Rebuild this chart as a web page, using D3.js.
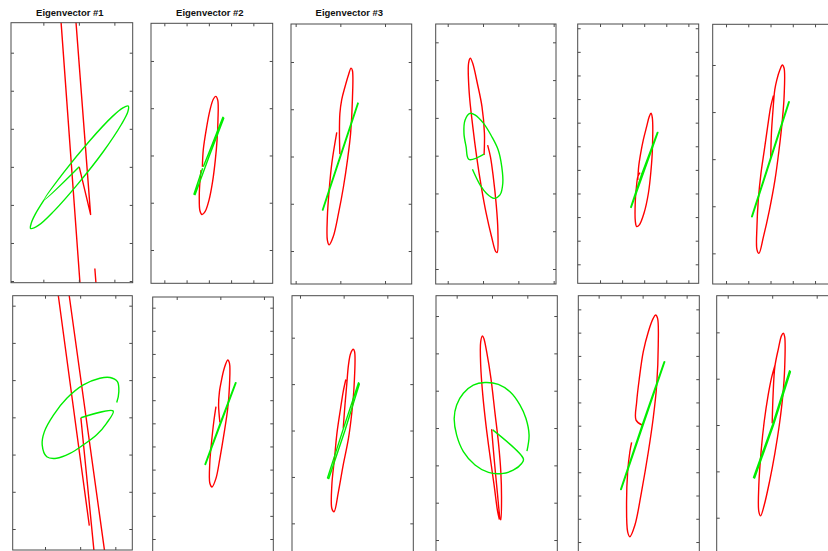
<!DOCTYPE html>
<html>
<head>
<meta charset="utf-8">
<script src="https://cdn.jsdelivr.net/npm/d3@7"></script>
<style>
  body { margin: 0; background: #fff; }
  svg { display: block; }
</style>
</head>
<body>
<svg id="chart" width="828" height="551"></svg>
<script>
// Titles above the first row of panels
const panelTitles = ["Eigenvector #1", "Eigenvector #2", "Eigenvector #3", "", "", "", "", "", "", "", "", ""];

// Axis limits (data units) for each panel
const xLimits = [
  [0.089, 3.516], [0.401, 5.869], [0.896, 3.597], [0.660, 4.066], [-0.011, 5.468], [0.401, 5.839],
  [0.081, 3.483], [0.450, 3.214], [0.817, 3.595], [0.415, 3.849], [0.076, 5.576], [0.753, 3.472]
];
const yLimits = [
  [-0.044, 6.788], [0.295, 5.797], [0.302, 5.804], [0.603, 7.485], [0.195, 11.18], [0.349, 5.864],
  [0.436, 7.268], [0.222, 11.461], [0.303, 5.905], [0.580, 7.545], [0.413, 11.587], [0.180, 5.791]
];

// Tick values (no labels are printed)
const xTickValues = [
  [1, 2, 3], [1, 2, 3, 4, 5], [1, 2, 3], [1, 2, 3, 4], [1, 2, 3, 4, 5], [1, 2, 3, 4, 5],
  [1, 2, 3], [1, 2, 3], [1, 2, 3], [1, 2, 3], [1, 2, 3, 4, 5], [1, 2, 3]
];
const yTickValues = [
  [0, 1, 2, 3, 4, 5, 6], [1, 2, 3, 4, 5], [1, 2, 3, 4, 5], [1, 2, 3, 4, 5, 6, 7],
  [1, 2, 3, 4, 5, 6, 7, 8, 9, 10, 11], [1, 2, 3, 4, 5],
  [1, 2, 3, 4, 5, 6, 7], [1, 2, 3, 4, 5, 6, 7, 8, 9, 10, 11], [1, 2, 3, 4, 5],
  [1, 2, 3, 4, 5, 6, 7], [1, 2, 3, 4, 5, 6, 7, 8, 9, 10, 11], [1, 2, 3, 4, 5]
];

// Red traces (x, y) per panel
const red01 = [[2.01,3.00],[2.33,1.75],[1.92,6.79],[1.86,7.56],[1.75,7.87],[1.58,7.87],[1.47,7.56],[1.50,6.79],[2.03,-0.04],[2.08,-0.67],[2.20,-0.94],[2.36,-0.89],[2.47,-0.50],[2.48,-0.04],[2.45,0.33]];
const red02 = [[2.71,2.76],[2.75,3.12],[2.89,3.57],[3.05,3.96],[3.20,4.19],[3.31,4.25],[3.40,4.17],[3.41,3.75],[3.37,3.33],[3.29,2.90],[3.17,2.45],[3.01,2.06],[2.83,1.81],[2.69,1.75],[2.60,1.83],[2.57,2.13],[2.60,2.45],[2.65,2.69]];
const red03 = [[1.99,3.05],[1.98,3.49],[1.99,3.91],[2.03,4.20],[2.10,4.46],[2.18,4.72],[2.24,4.87],[2.27,4.82],[2.27,4.20],[2.23,3.49],[2.16,2.93],[2.07,2.36],[1.96,1.80],[1.84,1.30],[1.75,1.13],[1.71,1.23],[1.71,1.73],[1.75,2.29],[1.81,2.86],[1.92,3.51]];
const red04 = [[2.03,4.02],[2.04,4.59],[1.97,5.30],[1.84,5.91],[1.71,6.44],[1.64,6.58],[1.59,6.44],[1.61,5.65],[1.71,4.77],[1.82,3.97],[1.95,3.18],[2.09,2.47],[2.24,1.86],[2.36,1.46],[2.40,1.44],[2.42,2.03],[2.37,2.74],[2.29,3.44],[2.21,3.97],[2.13,4.28]];
const red05 = [[2.71,4.57],[2.75,5.14],[2.84,5.70],[2.96,6.27],[3.11,6.83],[3.23,7.26],[3.31,7.40],[3.37,7.19],[3.37,5.84],[3.31,5.00],[3.19,4.01],[2.99,3.16],[2.78,2.67],[2.66,2.60],[2.60,2.81],[2.60,3.73],[2.65,4.29],[2.71,4.71],[2.81,4.88]];
const red06 = [[3.01,3.04],[3.04,3.55],[3.11,4.04],[3.19,4.47],[3.28,4.68],[3.43,4.91],[3.53,5.00],[3.61,4.93],[3.61,4.33],[3.53,3.83],[3.38,3.19],[3.20,2.56],[2.95,1.92],[2.68,1.35],[2.48,1.00],[2.39,1.08],[2.39,1.57],[2.45,2.13],[2.57,2.70],[2.72,3.19],[2.87,3.69],[3.01,4.12],[3.13,4.35]];
const red07 = [[2.02,3.99],[2.20,2.27],[2.39,0.44],[2.43,-0.06],[2.51,-0.37],[2.61,-0.41],[2.70,-0.15],[2.69,0.44],[1.69,7.26],[1.64,7.64],[1.56,7.87],[1.45,7.87],[1.32,7.64],[1.38,7.26],[2.26,1.09]];
const red08 = [[1.99,6.04],[1.96,6.79],[1.98,7.37],[2.02,7.80],[2.09,8.38],[2.17,8.74],[2.21,8.59],[2.21,7.66],[2.17,6.65],[2.08,5.50],[1.99,4.49],[1.90,3.62],[1.81,3.25],[1.76,3.41],[1.76,4.34],[1.80,5.21],[1.85,6.07],[1.90,6.72]];
const red09 = [[1.99,3.05],[2.03,3.55],[2.07,3.98],[2.11,4.41],[2.16,4.66],[2.22,4.75],[2.25,4.70],[2.24,3.98],[2.19,3.41],[2.11,2.83],[1.99,2.26],[1.88,1.68],[1.78,1.25],[1.73,1.32],[1.73,1.83],[1.79,2.40],[1.85,2.97],[1.93,3.48],[1.99,3.84],[2.05,4.10]];
const red10 = [[1.99,3.97],[2.06,3.19],[2.15,2.29],[2.23,1.58],[2.25,1.54],[2.27,2.12],[2.25,2.83],[2.19,3.54],[2.08,4.44],[1.97,5.33],[1.85,6.04],[1.77,6.40],[1.73,6.47],[1.68,6.31],[1.68,5.69],[1.74,4.88],[1.83,4.08],[1.94,3.28],[2.06,2.47],[2.16,1.76],[2.21,1.55]];
const red11 = [[2.97,6.03],[2.70,6.24],[2.73,7.03],[2.85,8.03],[3.03,9.18],[3.26,10.04],[3.48,10.61],[3.59,10.76],[3.68,10.61],[3.71,9.47],[3.64,7.75],[3.48,6.32],[3.26,4.88],[2.95,3.16],[2.65,1.73],[2.42,1.23],[2.32,1.44],[2.27,2.73],[2.32,4.02],[2.42,4.88],[2.50,5.28]];
const red12 = [[2.00,3.04],[2.02,3.65],[2.06,4.26],[2.14,4.65],[2.21,4.93],[2.25,4.98],[2.28,4.91],[2.28,4.22],[2.24,3.65],[2.16,3.00],[2.06,2.39],[1.94,1.78],[1.82,1.27],[1.74,1.04],[1.70,1.13],[1.70,1.71],[1.75,2.42],[1.82,3.07],[1.91,3.65],[1.99,4.04],[2.06,4.28]];

// Green traces (x, y) per panel
const green01 = [[2.01,3.00],[1.02,2.13],[1.58,2.86],[2.30,3.68],[2.94,4.32],[3.24,4.55],[3.39,4.60],[3.38,4.45],[3.20,4.12],[2.68,3.39],[1.98,2.56],[1.29,1.83],[0.86,1.46],[0.64,1.38],[0.66,1.52],[0.77,1.75],[1.02,2.13]];
const green02 = [[2.72,2.73],[2.33,2.18],[2.38,2.17],[3.01,2.98],[3.67,3.79],[3.63,3.81],[2.98,3.03],[2.75,2.76]];
const green03 = [[2.01,3.05],[1.60,1.87],[1.61,1.865],[2.40,4.125],[2.39,4.13],[2.01,3.05]];
const green04 = [[2.03,4.04],[1.60,3.90],[1.52,4.24],[1.46,4.59],[1.49,4.94],[1.63,5.12],[1.77,5.08],[2.01,4.86],[2.25,4.50],[2.43,4.15],[2.53,3.71],[2.56,3.27],[2.48,2.96],[2.31,2.87],[2.10,3.00],[1.92,3.22],[1.70,3.64]];
const green05 = [[2.89,4.83],[2.39,3.42],[2.41,3.41],[3.62,6.585],[3.60,6.59],[2.89,4.83]];
const green06 = [[3.01,3.04],[2.15,1.78],[2.175,1.775],[3.84,4.215],[3.82,4.22],[3.01,3.04]];
const green07 = [[2.02,3.99],[2.94,4.17],[2.75,3.84],[2.47,3.53],[2.09,3.26],[1.71,3.03],[1.33,2.90],[1.05,2.94],[0.92,3.26],[0.98,3.61],[1.24,4.06],[1.62,4.51],[2.09,4.87],[2.56,5.05],[2.85,5.07],[3.06,4.96],[3.10,4.69],[3.04,4.40]];
const green08 = [[2.00,6.03],[1.65,4.23],[1.66,4.22],[2.36,7.75],[2.35,7.76],[2.00,6.03]];
const green09 = [[1.99,3.03],[1.63,1.98],[1.66,1.965],[2.03,3.00],[2.36,4.00],[2.34,4.03],[1.99,3.03]];
const green10 = [[2.02,3.95],[2.89,3.17],[2.84,3.05],[2.60,2.87],[2.27,2.78],[1.90,2.81],[1.52,3.01],[1.19,3.37],[1.00,3.81],[0.93,4.26],[1.00,4.62],[1.19,4.93],[1.47,5.15],[1.80,5.22],[2.18,5.17],[2.51,4.97],[2.79,4.62],[2.96,4.26],[3.05,3.81],[2.99,3.38]];
const green11 = [[2.98,6.03],[2.00,3.26],[2.025,3.255],[4.005,8.745],[3.98,8.75],[2.98,6.03]];
const green12 = [[2.01,3.01],[1.58,1.87],[1.605,1.855],[2.03,3.00],[2.41,4.15],[2.39,4.17],[2.01,3.01]];

const redTraces = [red01, red02, red03, red04, red05, red06, red07, red08, red09, red10, red11, red12];
const greenTraces = [green01, green02, green03, green04, green05, green06, green07, green08, green09, green10, green11, green12];

// Page layout: axes boxes [left, top, right, bottom] in pixels
const axesBoxes = [
  [11, 22.7, 132.7, 282.7], [151, 23.3, 272.7, 283.3], [291, 24, 411.7, 284],
  [435.7, 24, 556, 284], [577.7, 24, 698.7, 283.3], [712.7, 24.3, 833.7, 284],
  [12.7, 295.7, 132.3, 550], [152.7, 297, 273.3, 557], [292, 295.7, 413.3, 555.7],
  [436, 295.7, 557.3, 555.7], [578.3, 295.7, 699.3, 555.7], [716.7, 295.7, 837.7, 555.7]
];
// Traces made of long straight strokes are joined with straight segments
const straightRed = new Set([0, 6]);
const straightGreen = new Set([1, 2, 4, 5, 7, 8, 10, 11]);

const svg = d3.select("#chart");
svg.append("rect").attr("width", 828).attr("height", 551).attr("fill", "#ffffff");
const defs = svg.append("defs");

const frameColor = "#4a4a4a";
const tickLen = 3;

axesBoxes.forEach((box, i) => {
  const [x0, y0, x1, y1] = box;
  const w = x1 - x0, h = y1 - y0;
  const x = d3.scaleLinear().domain(xLimits[i]).range([0, w]);
  const y = d3.scaleLinear().domain(yLimits[i]).range([h, 0]);

  const g = svg.append("g").attr("transform", `translate(${x0},${y0})`);

  defs.append("clipPath").attr("id", `clip${i}`)
    .append("rect").attr("x", 0).attr("y", 0).attr("width", w).attr("height", h);

  const plot = g.append("g").attr("clip-path", `url(#clip${i})`);

  const smooth = d3.line().x(d => x(d[0])).y(d => y(d[1])).curve(d3.curveCatmullRom.alpha(0.5));
  const straight = d3.line().x(d => x(d[0])).y(d => y(d[1]));

  plot.append("path")
    .attr("d", (straightRed.has(i) ? straight : smooth)(redTraces[i]))
    .attr("fill", "none").attr("stroke", "#ff0000").attr("stroke-width", 1.4)
    .attr("stroke-linejoin", "round");

  plot.append("path")
    .attr("d", (straightGreen.has(i) ? straight : smooth)(greenTraces[i]))
    .attr("fill", "none").attr("stroke", "#00ee00").attr("stroke-width", 1.4)
    .attr("stroke-linejoin", "round");

  // Inward ticks on all four sides
  const axes = [
    [d3.axisBottom(x).tickValues(xTickValues[i]), `translate(0,${h})`],
    [d3.axisTop(x).tickValues(xTickValues[i]), `translate(0,0)`],
    [d3.axisLeft(y).tickValues(yTickValues[i]), `translate(0,0)`],
    [d3.axisRight(y).tickValues(yTickValues[i]), `translate(${w},0)`]
  ];
  axes.forEach(([axis, tr]) => {
    const a = g.append("g").attr("transform", tr)
      .call(axis.tickSize(-tickLen).tickFormat(""));
    a.select(".domain").remove();
    a.selectAll("line").attr("stroke", frameColor).attr("stroke-width", 1);
  });

  g.append("rect")
    .attr("x", 0).attr("y", 0).attr("width", w).attr("height", h)
    .attr("fill", "none").attr("stroke", frameColor).attr("stroke-width", 1);

  if (panelTitles[i]) {
    svg.append("text")
      .attr("x", x0 + w / 2 - 2).attr("y", 16)
      .attr("text-anchor", "middle")
      .attr("font-family", "'Liberation Sans', Arial, sans-serif")
      .attr("font-weight", "bold").attr("font-size", 9.5)
      .attr("fill", "#111")
      .text(panelTitles[i]);
  }
});
</script>
</body>
</html>
